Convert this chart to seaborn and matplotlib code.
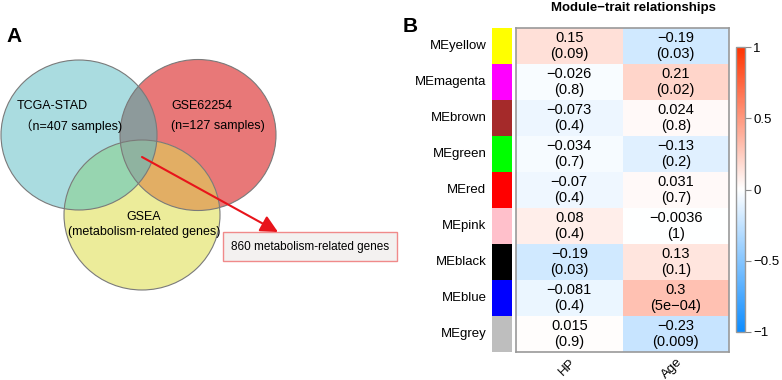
import numpy as np
import pandas as pd
import seaborn as sns
import matplotlib.pyplot as plt
from matplotlib.colors import LinearSegmentedColormap, ListedColormap
from matplotlib.patches import Ellipse, Polygon, Rectangle

# ---- data ----
modules = ['MEyellow', 'MEmagenta', 'MEbrown', 'MEgreen', 'MEred',
           'MEpink', 'MEblack', 'MEblue', 'MEgrey']
module_colors = ['#FFFF00', '#FF00FF', '#A52A2A', '#00FF00', '#FF0000',
                 '#FFC0CB', '#000000', '#0000FF', '#BEBEBE']
traits = ['HP', 'Age']
cor_hp = [0.15, -0.026, -0.073, -0.034, -0.07, 0.08, -0.19, -0.081, 0.015]
cor_age = [-0.19, 0.21, 0.024, -0.13, 0.031, -0.0036, 0.13, 0.3, -0.23]
p_hp = ['0.09', '0.8', '0.4', '0.7', '0.4', '0.4', '0.03', '0.4', '0.9']
p_age = ['0.03', '0.02', '0.8', '0.2', '0.7', '1', '0.1', '5e-04', '0.009']

venn_sub = ['\uff08n=407 samples)', '(n=127 samples)', '(metabolism-related genes)']
overlap_text = '860 metabolism-related genes'

plt.rcParams['font.family'] = ['Liberation Sans', 'Noto Sans CJK SC', 'DejaVu Sans']
W, H = 782, 380
fig = plt.figure(figsize=(W / 100, H / 100), dpi=100)


def fx(x):
    return x / W


def fy(y):
    return 1 - y / H


# ---- panel A: Venn ----
axA = fig.add_axes([0, 0, 400 / W, 1])
axA.set_xlim(0, 400)
axA.set_ylim(380, 0)
axA.axis('off')

sets = [(79, 135, 78, 75), (198, 135, 78, 75.5), (142, 215, 78, 75)]
fills = ['#AADCE0', '#E87878', '#ECEC9A']


def region(idx, n=1440):
    pts = []
    for i in idx:
        cx, cy, a, b = sets[i]
        t = np.linspace(0, 2 * np.pi, n)
        p = np.c_[cx + a * np.cos(t), cy + b * np.sin(t)]
        keep = np.ones(len(p), bool)
        for j in idx:
            ox, oy, oa, ob = sets[j]
            keep &= ((p[:, 0] - ox) / oa) ** 2 + ((p[:, 1] - oy) / ob) ** 2 <= 1 + 1e-9
        pts.append(p[keep])
    pts = np.vstack(pts)
    c = pts.mean(0)
    return pts[np.argsort(np.arctan2(pts[:, 1] - c[1], pts[:, 0] - c[0]))]


for (cx, cy, a, b), col in zip(sets, fills):
    axA.add_patch(Ellipse((cx, cy), 2 * a, 2 * b, fc=col, ec='none'))
for idx, col in [((0, 1), '#8D9A9B'), ((0, 2), '#97D5B0'), ((1, 2), '#E2AE64'),
                 ((0, 1, 2), '#8FB3A0')]:
    axA.add_patch(Polygon(region(idx), closed=True, fc=col, ec='none'))
for cx, cy, a, b in sets:
    axA.add_patch(Ellipse((cx, cy), 2 * a, 2 * b, fc='none', ec='#7a7a7a', lw=0.8))

axA.text(17, 106, 'TCGA-STAD', fontsize=9, va='center', ha='left')
axA.text(20, 126, venn_sub[0], fontsize=9, va='center', ha='left')
axA.text(171, 106, 'GSE62254', fontsize=9, va='center', ha='left')
axA.text(171, 126, venn_sub[1], fontsize=9, va='center', ha='left')
axA.text(144, 217, 'GSEA', fontsize=9, va='center', ha='center')
axA.text(144, 232, venn_sub[2], fontsize=9, va='center', ha='center')

axA.add_patch(Rectangle((223, 232), 174, 29, fc='#F3F1F0', ec='#F08A8A', lw=1))
axA.text(231, 247, overlap_text, fontsize=8.5, va='center', ha='left')
axA.annotate('', xy=(278, 232), xytext=(142, 157),
             arrowprops=dict(arrowstyle='-|>', color='#E8141B', lw=1.5,
                             mutation_scale=26, shrinkA=0, shrinkB=0))

fig.text(fx(6), fy(36), 'A', fontsize=15, fontweight='bold', va='center', ha='left')

# ---- panel B: module-trait heatmap ----
cor = pd.DataFrame({'HP': cor_hp, 'Age': cor_age}, index=modules)[traits]


def fmt(v):
    return str(v).replace('-', '\u2212')


annot = np.array([[f"{fmt(c)}\n({fmt(p)})" for c, p in zip(cor_hp, p_hp)],
                  [f"{fmt(c)}\n({fmt(p)})" for c, p in zip(cor_age, p_age)]]).T

bwr = LinearSegmentedColormap.from_list(
    'bwr_wgcna', [(0.05, 0.55, 1.0), (1, 1, 1), (1.0, 0.2, 0.0)])

axH = fig.add_axes([fx(516), fy(352), fx(729 - 516), (352 - 28) / H])
axS = fig.add_axes([fx(492), fy(352), fx(20), (352 - 28) / H])
axC = fig.add_axes([fx(736), fy(332), fx(9), (332 - 47) / H])

sns.heatmap(cor, ax=axH, cmap=bwr, vmin=-1, vmax=1, annot=annot, fmt='',
            annot_kws=dict(fontsize=10.5, color='black', linespacing=1.1),
            cbar_ax=axC, yticklabels=False)
axH.set_xticklabels(traits, rotation=45, ha='right', rotation_mode='anchor', fontsize=9.5)
axH.tick_params(axis='x', length=0, pad=3)
axH.set_xlabel('')
axH.set_ylabel('')
for s in axH.spines.values():
    s.set_visible(True)
    s.set_color('#999999')
    s.set_linewidth(1.2)

side = pd.DataFrame({'m': np.arange(len(modules))}, index=modules)
sns.heatmap(side, ax=axS, cmap=ListedColormap(module_colors), cbar=False,
            xticklabels=False, yticklabels=modules)
axS.tick_params(axis='y', length=0, pad=4, labelsize=9.5)
axS.set_yticklabels(modules, rotation=0)
axS.set_ylabel('')

cbar = axH.collections[0].colorbar
cbar.set_ticks([-1, -0.5, 0, 0.5, 1])
cbar.set_ticklabels(['\u22121', '\u22120.5', '0', '0.5', '1'])
axC.tick_params(axis='y', labelsize=9.5, length=4, color='#888888', pad=2)
cbar.outline.set_visible(True)
cbar.outline.set_edgecolor('#999999')
cbar.outline.set_linewidth(1)

fig.text(fx(633), fy(8), 'Module\u2212trait relationships', fontsize=9.5,
         fontweight='bold', ha='center', va='center')
fig.text(fx(403), fy(26), 'B', fontsize=15, fontweight='bold', va='center', ha='left')

fig.savefig('out.png', dpi=100)
